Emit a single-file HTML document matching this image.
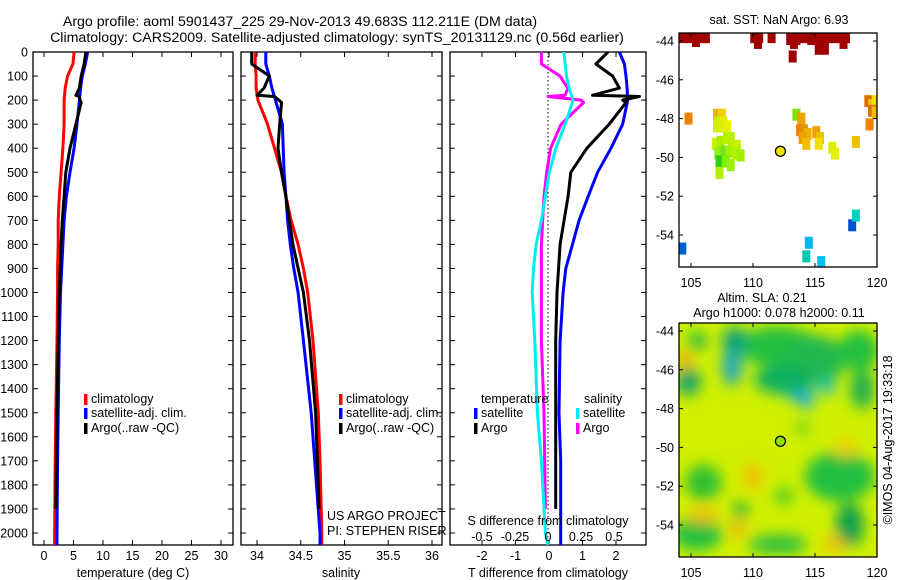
<!DOCTYPE html>
<html><head><meta charset="utf-8"><style>
html,body{margin:0;padding:0;background:#fff}
svg{display:block;font-family:"Liberation Sans",sans-serif}
</style></head><body>
<svg id="c" width="900" height="580" viewBox="0 0 900 580" xmlns="http://www.w3.org/2000/svg">
<defs>
<clipPath id="cp1"><rect x="33" y="52" width="200" height="493"/></clipPath>
<clipPath id="cp2"><rect x="241" y="52" width="201" height="493"/></clipPath>
<clipPath id="cp3"><rect x="450" y="52" width="196" height="493"/></clipPath>
<clipPath id="cpm1"><rect x="679" y="33" width="198" height="234"/></clipPath>
<clipPath id="cpm2"><rect x="679" y="323" width="198" height="234"/></clipPath>
<filter id="blur" x="-50%" y="-50%" width="200%" height="200%"><feGaussianBlur stdDeviation="7"/></filter>
</defs>
<text x="300" y="26" font-size="14.2" text-anchor="middle">Argo profile: aoml 5901437_225 29-Nov-2013 49.683S 112.211E (DM data)</text>
<text x="337" y="42" font-size="14.2" text-anchor="middle">Climatology: CARS2009. Satellite-adjusted climatology: synTS_20131129.nc (0.56d earlier)</text>
<g id="g1"></g>
<g id="g2"></g>
<g id="g3"></g>
<g id="gm1"></g>
<g id="gm2"></g>
</svg>
<script>
// ---- data ----
const tDepth = [0,50,100,150,200,300,400,500,600,700,800,900,1000,1200,1500,1700,2000,2050];
const tClim  = [5.1,4.9,4.0,3.6,3.4,3.4,3.2,2.9,2.6,2.4,2.4,2.3,2.3,2.2,2.0,1.9,1.8,1.8];
const tSat   = [7.4,7.0,6.5,6.2,6.0,5.6,5.1,4.4,3.8,3.4,3.2,3.0,2.8,2.6,2.4,2.3,2.2,2.2];
const argoDepth = [0,50,100,150,180,185,200,210,300,400,500,600,700,800,1000,1200,1500,1900];
const tArgo  = [7.1,6.8,6.3,6.0,5.4,6.0,6.1,6.3,5.4,4.4,3.7,3.4,3.1,2.9,2.6,2.4,2.2,2.0];
const sClim  = [33.98,33.98,33.99,33.99,34.01,34.12,34.2,34.28,34.33,34.39,34.47,34.53,34.58,34.64,34.7,34.72,34.74,34.74];
const sSat   = [34.1,34.1,34.14,34.17,34.21,34.29,34.3,34.31,34.33,34.35,34.38,34.42,34.47,34.53,34.62,34.66,34.72,34.72];
const sArgo  = [33.94,33.94,34.14,34.08,34.0,34.2,34.25,34.28,34.26,34.24,34.28,34.33,34.37,34.41,34.53,34.6,34.67,34.71];
const dTSat  = [2.1,2.25,2.3,2.33,2.35,2.2,1.85,1.45,1.17,0.9,0.7,0.5,0.42,0.33,0.3,0.35,0.35,0.35];
const dTArgo = [1.76,1.4,1.9,2.1,1.3,2.7,2.2,2.3,1.8,1.13,0.65,0.57,0.45,0.33,0.24,0.2,0.2,0.2];
const dSSat  = [0.12,0.13,0.14,0.16,0.19,0.13,0.06,0.01,-0.02,-0.05,-0.09,-0.11,-0.12,-0.1,-0.08,-0.05,-0.02,0.0];
const dSArgo = [-0.05,-0.05,0.09,0.15,0.13,0.0,0.25,0.27,0.1,0.02,-0.01,-0.03,-0.04,-0.05,-0.05,-0.05,-0.03,-0.02];
const depthTicks = [0,100,200,300,400,500,600,700,800,900,1000,1100,1200,1300,1400,1500,1600,1700,1800,1900,2000];
const tTicks = [0,5,10,15,20,25,30];
const sTicks = [34,34.5,35,35.5,36];
const sTickLabels = ['34','34.5','35','35.5','36'];
const dtTicks = [-2,-1,0,1,2];
const dsTicks = [-0.5,-0.25,0,0.25,0.5];
const dsTickLabels = ['-0.5','-0.25','0','0.25','0.5'];
// map 1 satellite SST cells: lon, lat, colour
const sstLon = [104.4,104.9,105.4,105.9,106.2,105.4,110.1,110.5,110.4,111.5,113.0,113.5,114.0,114.5,113.3,113.2,114.7,115.1,115.6,116.1,116.6,117.1,117.5,115.3,115.8,117.3,104.8,107.1,107.5,107.2,107.6,107.1,107.4,107.9,108.2,107.0,107.4,107.9,108.3,108.7,107.2,107.7,108.1,108.6,109.0,107.3,107.8,108.2,107.3,113.5,113.9,113.8,114.1,114.4,114.0,114.3,115.1,115.4,115.3,116.4,116.6,118.3,119.3,119.6,119.9,119.6,119.9,119.4,118.0,118.3,114.5,114.3,115.5,104.3];
const sstLat = [-43.8,-43.8,-43.8,-43.8,-43.8,-44.0,-43.8,-43.8,-44.1,-43.8,-43.9,-43.9,-43.8,-43.8,-44.1,-44.8,-43.9,-43.9,-43.8,-43.8,-43.8,-43.8,-43.8,-44.4,-44.4,-44.1,-48.0,-47.8,-47.8,-48.2,-48.2,-48.4,-48.4,-48.4,-49.0,-49.3,-49.2,-49.0,-49.4,-49.4,-49.8,-49.7,-49.7,-49.8,-49.9,-50.2,-50.2,-50.4,-50.8,-47.8,-48.0,-48.6,-48.6,-48.8,-49.0,-49.3,-48.7,-49.0,-49.3,-49.5,-49.8,-49.2,-47.1,-47.3,-47.1,-47.6,-47.7,-48.3,-53.5,-53.0,-54.4,-55.1,-55.4,-54.7];
const sstCol = ['#a00000','#a00000','#a00000','#a00000','#a00000','#a00000','#a00000','#a00000','#a00000','#a00000','#a00000','#a00000','#a00000','#a00000','#a00000','#a00000','#a00000','#a00000','#a00000','#a00000','#a00000','#a00000','#a00000','#a00000','#a00000','#a00000','#f08000','#f0b000','#f0d000','#c8f000','#e0f000','#c8f000','#d8f000','#e8f000','#b0f000','#c8f000','#a8f000','#b8f000','#c0f000','#c8f000','#90f010','#78e020','#a0f000','#b0f000','#a0f000','#30d010','#80f000','#98f000','#b0f000','#80e010','#f0a000','#f08000','#e09000','#f0b000','#f0a000','#f0c000','#f0a000','#f0c000','#f0e000','#d8f000','#e0f000','#f0c000','#e07000','#f0c000','#f0e000','#e07000','#f0c000','#f08000','#0050d0','#00d0c0','#00b8f0','#00c8b0','#00c0f0','#0060d0'];
// map 2 SLA anomaly blobs: lon, lat, colour
const slaLon = [112,115,118.5,108.3,108.5,113.5,114.3,116,112.5,104.8,105.5,118.8,117,117.8,106,105.5,112,109,112.5,114,104.5,106,108.8,110,116.5,117.5];
const slaLat = [-44.8,-45.5,-45,-45.8,-44.5,-47,-47.5,-46.9,-46.5,-46.6,-44.5,-47,-51.5,-54,-51.8,-54.5,-55,-53.2,-52.5,-49,-45.5,-53.5,-54.2,-51.5,-55,-50];
const slaCol = ['#20c040','#20b850','#20c040','#20a8c0','#10a080','#20b8d0','#20b0e0','#20c0c0','#10b060','#10a070','#30c040','#20b050','#20c040','#10a050','#30c030','#20c040','#30c040','#20b040','#60d020','#40c830','#f0a000','#f0c000','#f0b000','#f0c000','#f0c000','#f0d000'];
const slaRx = [40,30,20,10,12,14,8,8,30,12,10,12,35,14,18,25,30,8,10,6,6,16,8,10,12,12];
const slaRy = [20,25,20,20,14,12,10,8,15,14,10,20,25,22,18,16,10,8,10,6,10,8,8,14,8,10];

// ---- helpers ----
const NS='http://www.w3.org/2000/svg';
function el(tag, attrs, parent, txt){const e=document.createElementNS(NS,tag);for(const k in attrs)e.setAttribute(k,attrs[k]);if(txt!==undefined)e.textContent=txt;parent.appendChild(e);return e;}
const Y0=52, YB=545, YS=0.2405;
const yD = d => Y0 + d*YS;
const xT = v => 44 + v*5.9;
const xS = v => 257 + (v-34)*87.5;
const xDT = v => 549 + v*33.5;
const xDS = v => 548 + v*132;

function panel(g, x0, x1, clipId, prefix){
  const fr = el('rect',{x:x0,y:Y0,width:x1-x0,height:YB-Y0,fill:'none',stroke:'#000','stroke-width':1.3},g);
  
  
  depthTicks.forEach(d=>{
    el('line',{x1:x0,x2:x0+5,y1:yD(d),y2:yD(d),stroke:'#000'},g);
    el('line',{x1:x1-5,x2:x1,y1:yD(d),y2:yD(d),stroke:'#000'},g);
  });
}
function xticks(g, ticks, fx, labels, prefix, ly){
  ticks.forEach((t,i)=>{
    el('line',{x1:fx(t),x2:fx(t),y1:Y0,y2:Y0+5,stroke:'#000'},g);
    el('line',{x1:fx(t),x2:fx(t),y1:YB-5,y2:YB,stroke:'#000'},g);
    if(labels){
      const tx = el('text',{x:fx(t),y:ly,'font-size':12.5,'text-anchor':'middle'},g,labels[i]);
      
      
    }
  });
}
function line(g, depths, vals, fx, color, w, clip, name){
  const pts = depths.map((d,i)=>fx(vals[i]).toFixed(1)+','+yD(d).toFixed(1)).join(' ');
  const p = el('polyline',{points:pts,fill:'none',stroke:color,'stroke-width':w,'stroke-linejoin':'round','clip-path':'url(#'+clip+')'},g);
  
  
}
function legend(g, x, y, color, label, name){
  el('rect',{x:x,y:y-9,width:3.5,height:11,fill:color},g);
  const t = el('text',{x:x+7,y:y,'font-size':12.5},g,label);
  
  
}

// ---- panel 1: temperature ----
const g1=document.getElementById('g1');
panel(g1,33,233,'cp1','temperature-panel');
xticks(g1,tTicks,xT,tTicks.map(String),'temperature-x',560);
depthTicks.forEach(d=>{
  const t = el('text',{x:28,y:yD(d)+4.5,'font-size':12.5,'text-anchor':'end'},g1,String(d));
  
  
});
line(g1,tDepth,tClim,xT,'#f00',3,'cp1','temp-climatology-line');
line(g1,tDepth,tSat,xT,'#00f',3,'cp1','temp-satellite-line');
line(g1,argoDepth,tArgo,xT,'#000',3,'cp1','temp-argo-line');
legend(g1,84,403,'#f00','climatology','legend-climatology');
legend(g1,84,417,'#00f','satellite-adj. clim.','legend-satellite');
legend(g1,84,432,'#000','Argo(..raw -QC)','legend-argo');
el('text',{x:133,y:577,'font-size':12.5,'text-anchor':'middle',},g1,'temperature (deg C)');

// ---- panel 2: salinity ----
const g2=document.getElementById('g2');
panel(g2,241,442,'cp2','salinity-panel');
xticks(g2,sTicks,xS,sTickLabels,'salinity-x',560);
line(g2,tDepth,sClim,xS,'#f00',3,'cp2','sal-climatology-line');
line(g2,tDepth,sSat,xS,'#00f',3,'cp2','sal-satellite-line');
line(g2,argoDepth,sArgo,xS,'#000',3,'cp2','sal-argo-line');
legend(g2,339,403,'#f00','climatology','legend-climatology-2');
legend(g2,339,417,'#00f','satellite-adj. clim.','legend-satellite-2');
legend(g2,339,432,'#000','Argo(..raw -QC)','legend-argo-2');
el('text',{x:327,y:520,'font-size':12.5,},g2,'US ARGO PROJECT');
el('text',{x:327,y:535,'font-size':12.5,},g2,'PI: STEPHEN RISER');
el('text',{x:341,y:577,'font-size':12.5,'text-anchor':'middle',},g2,'salinity');

// ---- panel 3: differences ----
const g3=document.getElementById('g3');
panel(g3,450,646,'cp3','difference-panel');
xticks(g3,dtTicks,xDT,dtTicks.map(String),'t-diff-x',560);
el('line',{x1:548,x2:548,y1:Y0,y2:YB,stroke:'#000','stroke-dasharray':'1.5,2.5',},g3);
line(g3,argoDepth,dSArgo,xDS,'#f0f',3,'cp3','s-diff-argo-line');
line(g3,tDepth,dSSat,xDS,'#0ee',3,'cp3','s-diff-satellite-line');
line(g3,tDepth,dTSat,xDT,'#00f',3,'cp3','t-diff-satellite-line');
line(g3,argoDepth,dTArgo,xDT,'#000',3,'cp3','t-diff-argo-line');
el('text',{x:481,y:403,'font-size':12.5,},g3,'temperature');
el('text',{x:584,y:403,'font-size':12.5,},g3,'salinity');
legend(g3,474,417,'#00f','satellite','legend-t-satellite');
legend(g3,474,432,'#000','Argo','legend-t-argo');
legend(g3,576,417,'#0ee','satellite','legend-s-satellite');
legend(g3,576,432,'#f0f','Argo','legend-s-argo');
el('text',{x:548,y:525,'font-size':12.5,'text-anchor':'middle',},g3,'S difference from climatology');
dsTicks.forEach((t,i)=>{
  const tx=el('text',{x:xDS(t),y:541,'font-size':12.5,'text-anchor':'middle'},g3,dsTickLabels[i]);
  
  
});
el('text',{x:548,y:577,'font-size':12.5,'text-anchor':'middle',},g3,'T difference from climatology');

// ---- maps ----
const lonX = v => 691 + (v-105)*12.4;
const latY1 = v => 41 + (-44 - v)*19.4;
const latY2 = v => 331 + (-44 - v)*19.4;
const mapLonTicks=[105,110,115,120];
const mapLatTicks=[-44,-46,-48,-50,-52,-54];
function mapFrame(g, top, latY, prefix){
  el('rect',{x:679,y:top,width:198,height:234,fill:'none',stroke:'#000','stroke-width':1.3},g);
  mapLatTicks.forEach(l=>{
    el('line',{x1:679,x2:683,y1:latY(l),y2:latY(l),stroke:'#000'},g);
    el('line',{x1:873,x2:877,y1:latY(l),y2:latY(l),stroke:'#000'},g);
    const t=el('text',{x:674,y:latY(l)+4.5,'font-size':12.5,'text-anchor':'end'},g,String(l));
    
    
  });
  mapLonTicks.forEach(l=>{
    el('line',{x1:lonX(l),x2:lonX(l),y1:top,y2:top+4,stroke:'#000'},g);
    el('line',{x1:lonX(l),x2:lonX(l),y1:top+230,y2:top+234,stroke:'#000'},g);
    const t=el('text',{x:lonX(l),y:top+254,'font-size':12.5,'text-anchor':'middle'},g,String(l));
    
    
  });
}
const gm1=document.getElementById('gm1');
el('text',{x:779,y:24,'font-size':12.5,'text-anchor':'middle',},gm1,'sat. SST: NaN Argo: 6.93');
const cells=el('g',{'clip-path':'url(#cpm1)'},gm1);
sstLon.forEach((lo,i)=>{
  const r=el('rect',{x:lonX(lo)-4,y:latY1(sstLat[i])-6,width:8,height:12,fill:sstCol[i]},cells);
  
  
});
el('circle',{cx:lonX(112.211),cy:latY1(-49.683),r:5,fill:'#f0e000',stroke:'#000','stroke-width':1.2,},gm1);
mapFrame(gm1,33,latY1,'sst-map');

const gm2=document.getElementById('gm2');
el('text',{x:762,y:302,'font-size':12.5,'text-anchor':'middle',},gm2,'Altim. SLA: 0.21');
el('text',{x:779,y:317,'font-size':12.5,'text-anchor':'middle',},gm2,'Argo h1000: 0.078 h2000: 0.11');
const field=el('g',{'clip-path':'url(#cpm2)'},gm2);
el('rect',{x:679,y:323,width:198,height:234,fill:'#d0f000'},field);
const blobs=el('g',{filter:'url(#blur)'},field);
slaLon.forEach((lo,i)=>{
  const c=el('ellipse',{cx:lonX(lo),cy:latY2(slaLat[i]),rx:slaRx[i],ry:slaRy[i],fill:slaCol[i]},blobs);
  
  
});
el('circle',{cx:lonX(112.211),cy:latY2(-49.683),r:5,fill:'#90e000',stroke:'#000','stroke-width':1.2,},gm2);
mapFrame(gm2,323,latY2,'sla-map');
el('text',{x:0,y:0,'font-size':12.5,transform:'translate(892,440) rotate(-90)','text-anchor':'middle',},gm2,'©IMOS 04-Aug-2017 19:33:18');
</script>
</body></html>
